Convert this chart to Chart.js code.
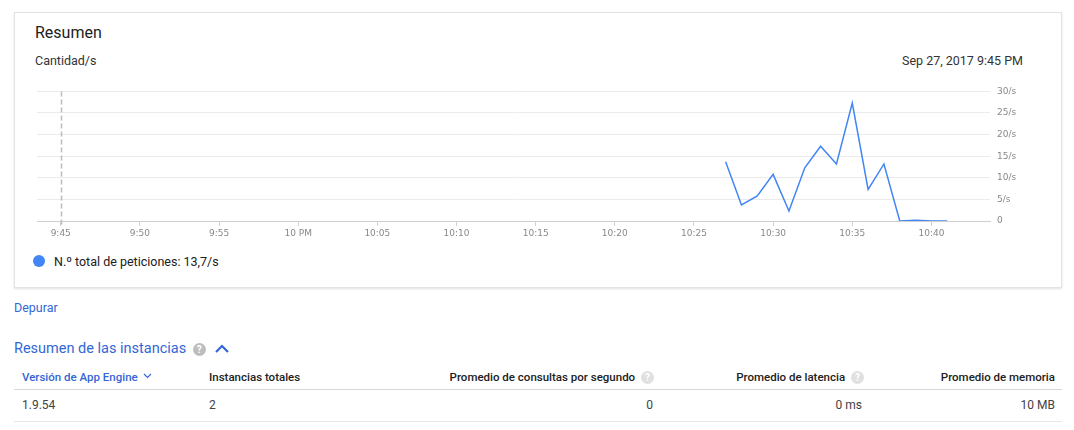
<!DOCTYPE html>
<html>
<head>
<meta charset="utf-8">
<script src="https://cdn.jsdelivr.net/npm/chart.js@4/dist/chart.umd.min.js"></script>
<style>
  html, body { margin:0; padding:0; background:#fff; width:1074px; height:430px; overflow:hidden; font-family: Roboto, "Noto Sans", sans-serif; }
  .card { position:absolute; left:14px; top:12px; width:1046px; height:274px; border:1px solid #e3e3e3; box-shadow:0 1px 2px rgba(0,0,0,0.12); background:#fff; }
  .abs { position:absolute; white-space:nowrap; }
  #chartWrap { position:absolute; left:37px; top:79px; width:993px; height:165px; }
  .blue { color:#3367d6; }
  .help { display:inline-block; width:13px; height:13px; border-radius:50%; background:#bdbdbd; color:#fff; font-size:10px; line-height:13px; text-align:center; font-weight:700; vertical-align:middle; }
  .helpL { background:#e0e0e0; }
  .th { font-size:11.5px; font-weight:500; color:#212121; top:370px; }
  .td { font-size:12px; color:#424242; top:398px; }
</style>
</head>
<body>
<div class="card"></div>
<div class="abs" style="left:35px; top:23px; font-size:16px; color:#212121;">Resumen</div>
<div class="abs" style="left:35px; top:53px; font-size:12.5px; color:#333;">Cantidad/s</div>
<div class="abs" style="right:51px; top:53px; font-size:12.5px; color:#333;">Sep 27, 2017 9:45 PM</div>
<div id="chartWrap"><canvas id="c"></canvas></div>
<div id="legend" class="abs" style="left:33px; top:254px; font-size:12.5px; color:#212121;"></div>
<div class="abs blue" style="left:14px; top:300px; font-size:12.5px;">Depurar</div>
<div class="abs blue" style="left:14px; top:340px; font-size:14.5px;">Resumen de las instancias <span class="help" style="margin-left:3px;">?</span>
  <svg width="16" height="12" style="vertical-align:middle; margin-left:5px;" viewBox="0 0 16 12"><path d="M2 9 L8 3 L14 9" stroke="#3367d6" stroke-width="2.2" fill="none"/></svg></div>

<div class="abs th" style="left:22px; color:#3367d6;">Versión de App Engine <svg width="9" height="6" viewBox="0 0 9 6" style="vertical-align:2px; margin-left:2px;"><path d="M1 1 L4.5 4.5 L8 1" stroke="#3367d6" stroke-width="1.2" fill="none"/></svg></div>
<div class="abs th" style="left:209px;">Instancias totales</div>
<div class="abs th" style="right:420px;">Promedio de consultas por segundo <span class="help helpL" style="margin-left:3px;">?</span></div>
<div class="abs th" style="right:210px;">Promedio de latencia <span class="help helpL" style="margin-left:3px;">?</span></div>
<div class="abs th" style="right:19px;">Promedio de memoria</div>
<div class="abs" style="left:14px; top:389px; width:1048px; height:1px; background:#d6d6d6;"></div>
<div class="abs td" style="left:22px;">1.9.54</div>
<div class="abs td" style="left:209px;">2</div>
<div class="abs td" style="right:421px;">0</div>
<div class="abs td" style="right:212px;">0 ms</div>
<div class="abs td" style="right:19px;">10 MB</div>
<div class="abs" style="left:14px; top:421px; width:1048px; height:1px; background:#e6e6e6;"></div>

<script>
// minutes after 9:45 PM
const minutes = [42, 43, 44, 45, 46, 47, 48, 49, 50, 51, 52, 53, 54, 55, 56];
const requests = [13.7, 3.7, 5.8, 10.8, 2.3, 12.3, 17.3, 13.2, 27.3, 7.3, 13.2, 0, 0.2, 0, 0];
const xTickValues = [0, 5, 10, 15, 20, 25, 30, 35, 40, 45, 50, 55];
const xTickLabels = ["9:45", "9:50", "9:55", "10 PM", "10:05", "10:10", "10:15", "10:20", "10:25", "10:30", "10:35", "10:40"];
const yTickValues = [0, 5, 10, 15, 20, 25, 30];
const yTickLabels = ["0", "5/s", "10/s", "15/s", "20/s", "25/s", "30/s"];
const seriesLabel = "N.º total de peticiones";
const legendValue = "13,7/s";
const lineColor = "#4285f4";

document.getElementById('legend').innerHTML =
  '<span style="display:inline-block;width:12px;height:12px;border-radius:50%;background:' + lineColor + ';vertical-align:-1px;margin-right:9px;"></span>' +
  seriesLabel + ': ' + legendValue;

const dashedStart = {
  id: 'dashedStart',
  beforeDatasetsDraw(chart) {
    const x = chart.scales.x.getPixelForValue(0);
    const ctx = chart.ctx;
    ctx.save();
    ctx.strokeStyle = '#bdbdbd';
    ctx.lineWidth = 1.5;
    ctx.setLineDash([5, 3]);
    ctx.beginPath();
    ctx.moveTo(Math.round(x) + 0.5, chart.chartArea.top);
    ctx.lineTo(Math.round(x) + 0.5, chart.chartArea.bottom + 5);
    ctx.stroke();
    ctx.restore();
  }
};

new Chart(document.getElementById('c'), {
  type: 'line',
  data: {
    datasets: [{
      label: seriesLabel,
      data: minutes.map((m, i) => ({ x: m, y: requests[i] })),
      borderColor: lineColor,
      borderWidth: 1.5,
      pointRadius: 0,
      tension: 0,
      fill: false
    }]
  },
  options: {
    responsive: true,
    maintainAspectRatio: false,
    animation: false,
    layout: { padding: { top: 9, left: 0, right: 0, bottom: 0 } },
    plugins: { legend: { display: false }, tooltip: { enabled: false } },
    scales: {
      x: {
        type: 'linear',
        min: -1.5,
        max: 58.7,
        afterBuildTicks: s => { s.ticks = xTickValues.map(v => ({ value: v })); },
        afterFit: s => { s.height = 23; },
        ticks: {
          autoSkip: false,
          maxRotation: 0,
          padding: 2,
          color: '#888',
          font: { family: 'DejaVu Sans', size: 9 },
          callback: v => xTickLabels[xTickValues.indexOf(v)]
        },
        grid: { drawOnChartArea: false, drawTicks: true, tickLength: 5, tickColor: '#d0d0d0' },
        border: { display: true, color: '#cfcfcf' }
      },
      y: {
        position: 'right',
        min: 0,
        max: 30,
        afterBuildTicks: s => { s.ticks = yTickValues.map(v => ({ value: v })); },
        afterFit: s => { s.width = 40; },
        ticks: {
          padding: 7,
          color: '#888',
          font: { family: 'DejaVu Sans', size: 9 },
          callback: v => yTickLabels[yTickValues.indexOf(v)]
        },
        grid: { drawTicks: false, color: c => (c.tick && c.tick.value === 0) ? '#cfcfcf' : '#ebebeb' },
        border: { display: false }
      }
    }
  },
  plugins: [dashedStart]
});
</script>
</body>
</html>
